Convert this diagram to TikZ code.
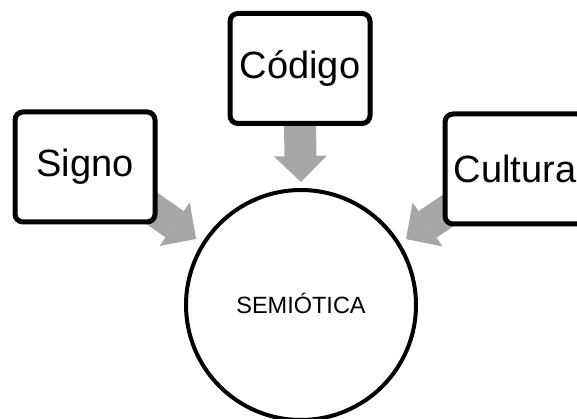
\documentclass[tikz,border=0pt]{standalone}
\usepackage{fontspec}
\setmainfont{Liberation Sans}
\usetikzlibrary{arrows.meta}
\pgfdeclarelayer{background}
\pgfsetlayers{background,main}
\definecolor{arrowgray}{RGB}{166,166,166}
\tikzset{
  termbox/.style={draw, line width=5pt, rounded corners=8pt, fill=white,
    minimum width=140pt, minimum height=110pt, inner sep=0pt,
    font=\fontsize{38}{44}\selectfont},
  hub/.style={circle, draw, line width=4pt, fill=white, minimum size=230pt,
    inner sep=0pt, text depth=4pt, font=\fontsize{23.5}{28}\selectfont},
  blockarrow/.style={draw=arrowgray, line width=32pt,
    -{Triangle[width=53pt,length=26pt,line width=0pt]}, shorten >=6pt}
}
\begin{document}
\begin{tikzpicture}[x=1pt,y=-1pt]
  \useasboundingbox (0,0) rectangle (577,419);
  % central concept and the three feeding terms
  \node[hub] (sem) at (301,305) {SEMIÓTICA};
  \node[termbox] (codigo) at (300,68.5) {Código};
  \node[termbox] (signo) at (85,167) {Signo};
  \node[termbox] (cultura) at (515,169) {Cultura};
  % wide grey arrows, tucked under the boxes
  \begin{pgfonlayer}{background}
    \draw[blockarrow, shorten <=-10pt] (codigo.south) -- (sem.north);
    \draw[blockarrow, shorten <=-15pt, shorten >=7pt] (signo.-32) -- (sem.148);
    \draw[blockarrow, shorten <=-15pt, shorten >=7pt] (cultura.-148) -- (sem.32);
  \end{pgfonlayer}
\end{tikzpicture}
\end{document}
